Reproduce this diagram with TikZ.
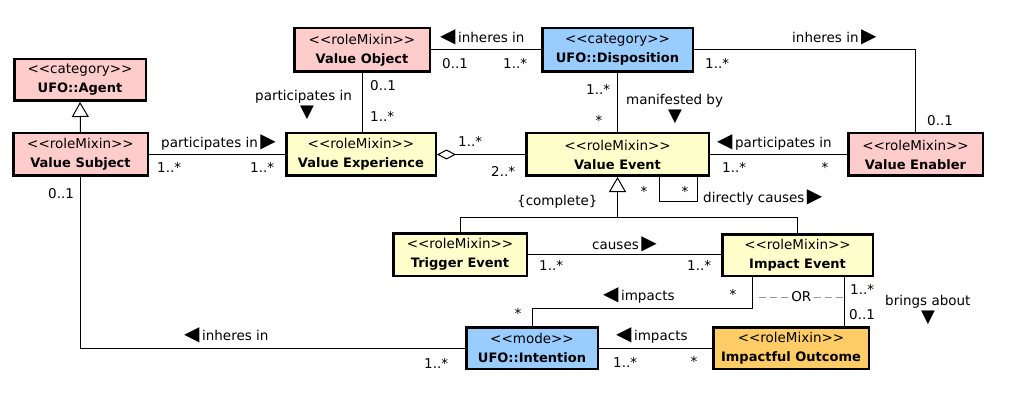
\documentclass[tikz,border=0pt]{standalone}
\usepackage{fontspec}
\newfontfamily\djv{DejaVu Sans}
\usetikzlibrary{arrows.meta,calc}
\definecolor{pinkc}{HTML}{FFCCCC}
\definecolor{bluec}{HTML}{99CCFF}
\definecolor{yelc}{HTML}{FFFFCC}
\definecolor{orac}{HTML}{FFCC66}
\definecolor{orgray}{HTML}{999999}
\newcommand\boxfont{\djv\fontsize{13.5}{19}\selectfont}
\newcommand\labfont{\djv\fontsize{13.5}{16}\selectfont}
\newcommand\trifont{\djv\fontsize{18}{18}\selectfont}
\newcommand\nmm[1]{{\fontsize{13}{19}\selectfont\bfseries #1}}
\newcommand\rtri{\kern2.5pt{\fontsize{20}{20}\selectfont ▶}}
\newcommand\ltri{{\fontsize{20}{20}\selectfont ◀}\kern2.5pt}
\begin{document}
\begin{tikzpicture}[x=1pt,y=-1pt,font=\djv,
  box/.style={draw, line width=2.5pt, align=center, inner sep=0pt, font=\boxfont},
  lab/.style={inner sep=0pt, anchor=base west, font=\labfont},
  mult/.style={inner sep=0pt, anchor=base west, font=\labfont},
  dtri/.style={inner sep=0pt, anchor=center, font=\trifont},
  conn/.style={line width=1pt},
  gen/.style={conn, -{Triangle[open, length=15pt, width=17pt, fill=white]}},
  agg/.style={conn, {Diamond[open, length=19pt, width=10pt, fill=white]}-},
]
\useasboundingbox (0,0) rectangle (1011,414);

% classes
\node[box, fill=pinkc, minimum width=131.5, minimum height=41.5] (agent) at (80,80) {<<category>>\\\nmm{UFO::Agent}};
\node[box, fill=pinkc, minimum width=134.5, minimum height=42.5] (vs) at (80.5,154.5) {<<roleMixin>>\\\nmm{Value Subject}};
\node[box, fill=pinkc, minimum width=135.5, minimum height=43.5] (vo) at (362,50) {<<roleMixin>>\\\nmm{Value Object}};
\node[box, fill=yelc, minimum width=149.5, minimum height=42.5] (vexp) at (361,154.5) {<<roleMixin>>\\\nmm{Value Experience}};
\node[box, fill=bluec, minimum width=150.5, minimum height=43.5] (disp) at (617.5,50) {<<category>>\\\nmm{UFO::Disposition}};
\node[box, fill=yelc, minimum width=182.5, minimum height=42.5] (vev) at (617.5,154.5) {<<roleMixin>>\\\nmm{Value Event}};
\node[box, fill=pinkc, minimum width=134.5, minimum height=42.5] (ven) at (915.5,154.5) {<<roleMixin>>\\\nmm{Value Enabler}};
\node[box, fill=yelc, minimum width=133.5, minimum height=42.5] (trig) at (460,254.5) {<<roleMixin>>\\\nmm{Trigger Event}};
\node[box, fill=yelc, minimum width=150.5, minimum height=41.5] (imp) at (797.5,255) {<<roleMixin>>\\\nmm{Impact Event}};
\node[box, fill=bluec, minimum width=131.5, minimum height=41.5] (int) at (532,348) {<<mode>>\\\nmm{UFO::Intention}};
\node[box, fill=orac, minimum width=155.5, minimum height=41.5] (out) at (791,348) {<<roleMixin>>\\\nmm{Impactful Outcome}};

% connectors
\draw[gen] (vs.north) -- (agent.south);
\draw[conn] (vs.east) -- (vexp.west);
\draw[conn] (vo.south) -- (vo.south |- vexp.north);
\draw[conn] (vo.east) -- (disp.west);
\draw[conn] (disp.east) -| (ven.north);
\draw[conn] (disp.south) -- (vev.north);
\draw[agg] (vexp.east) -- (vev.west);
\draw[conn] (ven.west) -- (vev.east);
\draw[conn] ([xshift=42pt]vev.south) -- ++(0,24) -- ++(38,0) -- ([xshift=80pt]vev.south);
\coordinate (gs) at ($(vev.south)+(0,40.5)$);
\draw[conn] (trig.north) |- (gs) -| (imp.north);
\draw[gen] (gs) -- (vev.south);
\draw[conn] (trig.east) -- (trig.east -| imp.west);
\draw[conn] ([xshift=-45.5pt]imp.south) -- ++(0,31) -| (int.north);
\draw[conn] (int.east) -- (out.west);
\draw[conn] ([xshift=46.5pt]imp.south) -- ([xshift=46.5pt]imp.south |- out.north);
\draw[conn] (vs.south) |- (int.west);
\coordinate (orA) at (759,297);
\coordinate (orB) at (843.5,297);
\draw[conn, orgray, dash pattern=on 7pt off 4pt] (orA) -- node[fill=white, inner sep=1.5pt, text=black, font=\labfont] (ornode) {OR} (orB);

% labels
\node[lab] (l1) at (161,148) {participates in\rtri};
\node[lab] (l2) at (440,43) {\ltri inheres in};
\node[lab] (l3) at (792,43) {inheres in\rtri};
\node[lab] (l4) at (255,101) {participates in};
\node[dtri] (t4) at (307,113) {▼};
\node[lab] (l5) at (626,105) {manifested by};
\node[dtri] (t5) at (675,116.5) {▼};
\node[lab] (l6) at (717,148) {\ltri participates in};
\node[lab] (l7) at (703,202) {directly causes\rtri};
\node[lab] (l8) at (517,205) {\{complete\}};
\node[lab] (l9) at (592,249) {causes\rtri};
\node[lab] (l10) at (603,300) {\ltri impacts};
\node[lab] (l11) at (616,340) {\ltri impacts};
\node[lab] (l12) at (885,305) {brings about};
\node[dtri] (t12) at (928,317.5) {▼};
\node[lab] (l13) at (184,340) {\ltri inheres in};

% multiplicities
\node[mult] (m1) at (157,172) {1..*};
\node[mult] (m2) at (250,172) {1..*};
\node[mult] (m3) at (442,69) {0..1};
\node[mult] (m4) at (503,69) {1..*};
\node[mult] (m5) at (370,91) {0..1};
\node[mult] (m6) at (370,122) {1..*};
\node[mult] (m7) at (458,147) {1..*};
\node[mult] (m8) at (491,176) {2..*};
\node[mult] (m9) at (705,69) {1..*};
\node[mult] (m10) at (927,126) {0..1};
\node[mult] (m11) at (586,95) {1..*};
\node[mult] (m12) at (595.5,126) {*};
\node[mult] (m13) at (722,173) {1..*};
\node[mult] (m14) at (821.5,173) {*};
\node[mult] (m15) at (640.5,196.5) {*};
\node[mult] (m16) at (681.5,196.5) {*};
\node[mult] (m17) at (539,270) {1..*};
\node[mult] (m18) at (687,270) {1..*};
\node[mult] (m19) at (729.5,299.5) {*};
\node[mult] (m20) at (514.5,318.5) {*};
\node[mult] (m21) at (613,367) {1..*};
\node[mult] (m22) at (690.5,366.5) {*};
\node[mult] (m23) at (424,368) {1..*};
\node[mult] (m24) at (48,198) {0..1};
\node[mult] (m25) at (850,294) {1..*};
\node[mult] (m26) at (849,319) {0..1};
\end{tikzpicture}
\end{document}
